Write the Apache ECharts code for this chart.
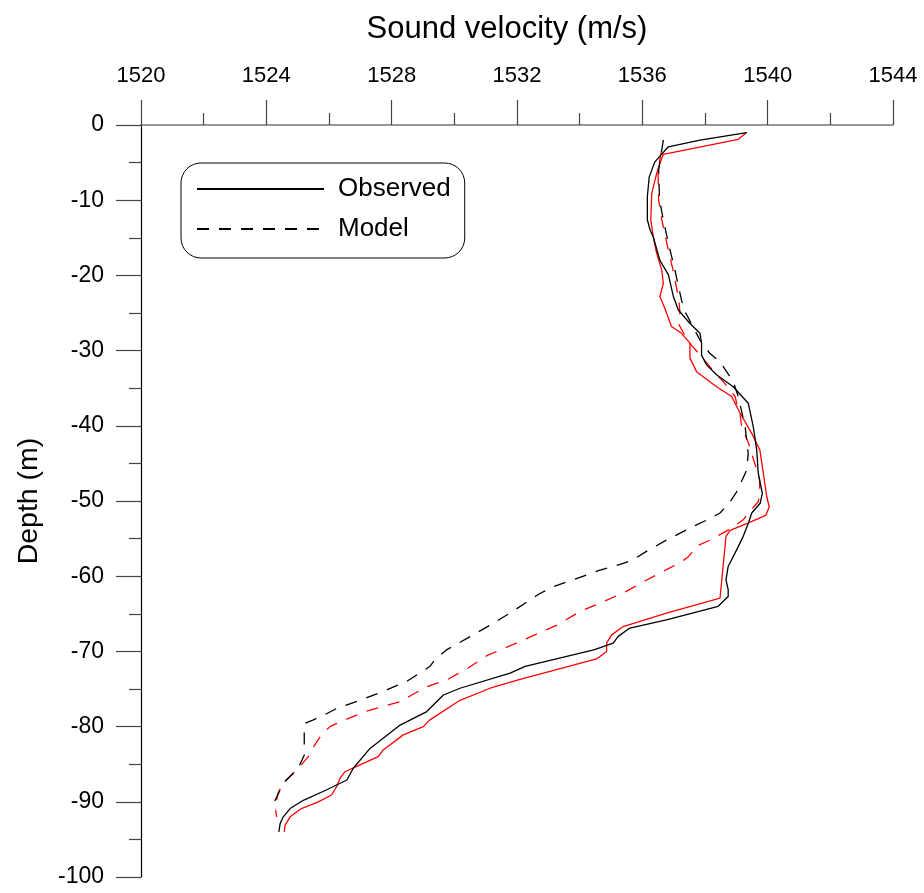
<!DOCTYPE html>
<html>
<head>
<meta charset="utf-8">
<script src="https://cdn.jsdelivr.net/npm/echarts@6/dist/echarts.min.js"></script>
<style>
  html, body { margin: 0; padding: 0; background: #fff; }
  #chart { width: 924px; height: 893px; }
</style>
</head>
<body>
<div id="chart"></div>
<script>
// Sound velocity profiles: depth (m, negative downwards) vs velocity (m/s)
const obsDepth = [-1.0, -2.0, -2.9, -4.9, -6.9, -9.5, -12.6, -14.0, -14.9, -18.0, -19.9, -22.8, -24.6, -26.4, -27.7, -29.0, -30.6, -31.9, -33.2, -34.8, -37.0, -40.1, -43.2, -46.3, -49.0, -50.3, -51.6, -53.0, -54.7, -56.5, -58.7, -60.5, -61.8, -62.7, -64.0, -65.8, -66.9, -68.0, -68.9, -69.8, -72.0, -72.9, -74.9, -75.8, -78.0, -79.8, -82.9, -85.5, -87.1, -88.4, -89.8, -90.9, -92.0, -92.9, -94.0];
const obsVel = [1539.33, 1537.84, 1536.83, 1536.40, 1536.22, 1536.16, 1536.16, 1536.25, 1536.35, 1536.56, 1536.83, 1536.99, 1537.15, 1537.52, 1537.84, 1537.89, 1537.89, 1538.05, 1538.37, 1538.90, 1539.38, 1539.54, 1539.65, 1539.70, 1539.83, 1539.76, 1539.49, 1539.38, 1539.22, 1539.01, 1538.74, 1538.67, 1538.74, 1538.74, 1538.42, 1536.77, 1535.60, 1535.23, 1535.07, 1534.45, 1532.26, 1531.78, 1530.18, 1529.65, 1529.12, 1528.27, 1527.31, 1526.78, 1526.57, 1525.93, 1525.18, 1524.76, 1524.54, 1524.44, 1524.40];

const obs2Depth = [-1.0, -1.9, -3.9, -5.1, -6.4, -9.1, -12.6, -14.9, -17.1, -19.3, -21.1, -22.8, -24.4, -26.8, -27.7, -29.0, -31.0, -32.8, -34.8, -36.1, -38.3, -41.0, -43.2, -46.3, -49.4, -50.8, -51.9, -53.0, -53.9, -54.7, -62.9, -64.9, -66.7, -67.8, -68.9, -70.0, -71.0, -73.8, -74.9, -76.5, -79.1, -80.0, -81.1, -83.1, -84.0, -85.4, -86.0, -86.9, -88.0, -89.1, -90.0, -90.9, -92.0, -93.1, -94.0];
const obs2Vel = [1539.33, 1539.06, 1536.67, 1536.56, 1536.46, 1536.30, 1536.27, 1536.35, 1536.46, 1536.62, 1536.67, 1536.56, 1536.72, 1536.93, 1537.25, 1537.52, 1537.52, 1537.73, 1538.37, 1538.85, 1539.12, 1539.49, 1539.75, 1539.86, 1539.97, 1540.05, 1539.94, 1539.33, 1538.80, 1538.67, 1538.48, 1536.77, 1535.39, 1535.02, 1534.86, 1534.86, 1534.54, 1532.04, 1531.14, 1530.18, 1529.22, 1529.01, 1528.37, 1527.73, 1527.57, 1526.83, 1526.51, 1526.35, 1526.24, 1526.08, 1525.66, 1525.12, 1524.76, 1524.60, 1524.57];

const modDepth = [-2.0, -6.0, -10.0, -12.6, -15.7, -19.3, -23.3, -24.8, -28.6, -30.4, -31.5, -32.8, -34.1, -36.1, -40.1, -43.7, -45.9, -48.8, -50.1, -51.6, -52.1, -53.6, -55.2, -56.7, -57.8, -58.3, -59.2, -61.4, -62.3, -64.9, -66.5, -68.3, -69.8, -71.1, -72.0, -74.0, -75.3, -76.5, -77.6, -78.5, -79.1, -79.6, -81.8, -83.8, -85.5, -86.4, -87.5, -88.4, -89.8, -90.6];
const modVel = [1536.67, 1536.52, 1536.55, 1536.67, 1536.83, 1537.04, 1537.25, 1537.36, 1537.84, 1538.16, 1538.48, 1538.69, 1538.90, 1539.06, 1539.28, 1539.38, 1539.33, 1539.01, 1538.80, 1538.48, 1538.27, 1537.52, 1536.77, 1536.13, 1535.71, 1535.39, 1534.65, 1533.16, 1532.73, 1531.78, 1531.14, 1530.39, 1529.75, 1529.38, 1529.22, 1528.48, 1527.73, 1527.00, 1526.24, 1525.82, 1525.50, 1525.21, 1525.21, 1525.21, 1525.02, 1524.81, 1524.54, 1524.44, 1524.28, 1524.28];

const mod2Depth = [-2.0, -6.0, -10.0, -12.6, -15.7, -19.3, -23.3, -25.0, -26.4, -28.4, -29.3, -30.8, -33.2, -34.1, -36.1, -37.0, -38.5, -40.1, -42.2, -43.7, -45.8, -47.1, -49.0, -50.1, -51.6, -52.5, -53.6, -55.2, -55.9, -57.4, -58.1, -59.0, -60.5, -62.1, -63.4, -64.7, -66.5, -67.8, -69.1, -70.5, -72.2, -73.8, -74.7, -75.8, -76.7, -77.1, -78.0, -79.3, -80.0, -81.1, -82.7, -84.0, -85.3, -86.2, -87.5, -88.8, -90.6, -92.0];
const mod2Vel = [1536.67, 1536.50, 1536.52, 1536.62, 1536.78, 1536.98, 1537.17, 1537.20, 1537.15, 1537.41, 1537.57, 1537.89, 1538.37, 1538.58, 1538.96, 1539.01, 1539.12, 1539.17, 1539.38, 1539.49, 1539.65, 1539.74, 1539.75, 1539.70, 1539.38, 1539.22, 1538.85, 1538.16, 1537.78, 1537.47, 1537.25, 1536.83, 1536.14, 1535.45, 1534.75, 1534.01, 1533.28, 1532.57, 1531.87, 1531.07, 1530.44, 1529.76, 1529.12, 1528.64, 1528.27, 1527.90, 1527.15, 1526.40, 1526.03, 1525.76, 1525.50, 1525.34, 1525.07, 1524.86, 1524.54, 1524.38, 1524.28, 1524.33];

const velTicks = { min: 1520, max: 1544, step: 4 };
const depthTicks = { min: -100, max: 0, step: 10 };

const pairs = (v, d) => v.map((x, i) => [x, d[i]]);

const FONT = '"Liberation Sans", Arial, sans-serif';
const chart = echarts.init(document.getElementById('chart'), null, { renderer: 'canvas' });

const axisCommon = {
  type: 'value',
  splitLine: { show: false },
  axisLine: { show: true, onZero: false, lineStyle: { color: '#000', width: 1.2 } },
  axisTick: { show: true, length: 25, lineStyle: { color: '#444', width: 1.2 } },
  minorTick: { show: true, splitNumber: 2, length: 12, lineStyle: { color: '#444', width: 1.2 } },
  axisLabel: { color: '#000', fontFamily: FONT, fontSize: 22, formatter: v => String(v) }
};

chart.setOption({
  animation: false,
  backgroundColor: '#fff',
  grid: { left: 141, top: 125, right: 31, bottom: 16, containLabel: false },
  xAxis: Object.assign({}, axisCommon, {
    position: 'top',
    min: velTicks.min, max: velTicks.max, interval: velTicks.step,
    name: 'Sound velocity (m/s)',
    nameLocation: 'middle',
    nameGap: 80,
    nameTextStyle: { color: '#000', fontFamily: FONT, fontSize: 31, padding: [0, 20, 0, 0] },
    axisLine: { show: true, onZero: false, lineStyle: { color: '#777', width: 1.6 } },
    axisLabel: Object.assign({}, axisCommon.axisLabel, { margin: 38 })
  }),
  yAxis: Object.assign({}, axisCommon, {
    min: depthTicks.min, max: depthTicks.max, interval: depthTicks.step,
    name: 'Depth (m)',
    nameLocation: 'middle',
    nameGap: 97,
    nameTextStyle: { color: '#000', fontFamily: FONT, fontSize: 28.5 },
    axisLabel: Object.assign({}, axisCommon.axisLabel, { fontSize: 23, margin: 37 })
  }),
  legend: {
    data: ['Observed', 'Model'],
    orient: 'vertical',
    left: 181, top: 163,
    itemWidth: 127, itemHeight: 2, itemGap: 14,
    padding: [13, 14, 16, 15],
    borderColor: '#000', borderWidth: 1, borderRadius: 20,
    selectedMode: false,
    itemStyle: { opacity: 0 },
    textStyle: { color: '#000', fontFamily: FONT, fontSize: 26, lineHeight: 25, padding: [0, 0, 0, 9] }
  },
  series: [
    { name: 'Observed', type: 'line', data: pairs(obsVel, obsDepth), symbol: 'none', z: 3,
      lineStyle: { color: '#000', width: 1.3 }, itemStyle: { color: '#000' } },
    { name: 'Observed (red)', type: 'line', data: pairs(obs2Vel, obs2Depth), symbol: 'none', z: 2,
      lineStyle: { color: '#ff0000', width: 1.3 }, itemStyle: { color: '#ff0000' } },
    { name: 'Model', type: 'line', data: pairs(modVel, modDepth), symbol: 'none', z: 3,
      lineStyle: { color: '#000', width: 1.3, type: [12, 10] }, itemStyle: { color: '#000' } },
    { name: 'Model (red)', type: 'line', data: pairs(mod2Vel, mod2Depth), symbol: 'none', z: 2,
      lineStyle: { color: '#ff0000', width: 1.3, type: [12, 10], dashOffset: 11 }, itemStyle: { color: '#ff0000' } }
  ]
});
</script>
</body>
</html>
